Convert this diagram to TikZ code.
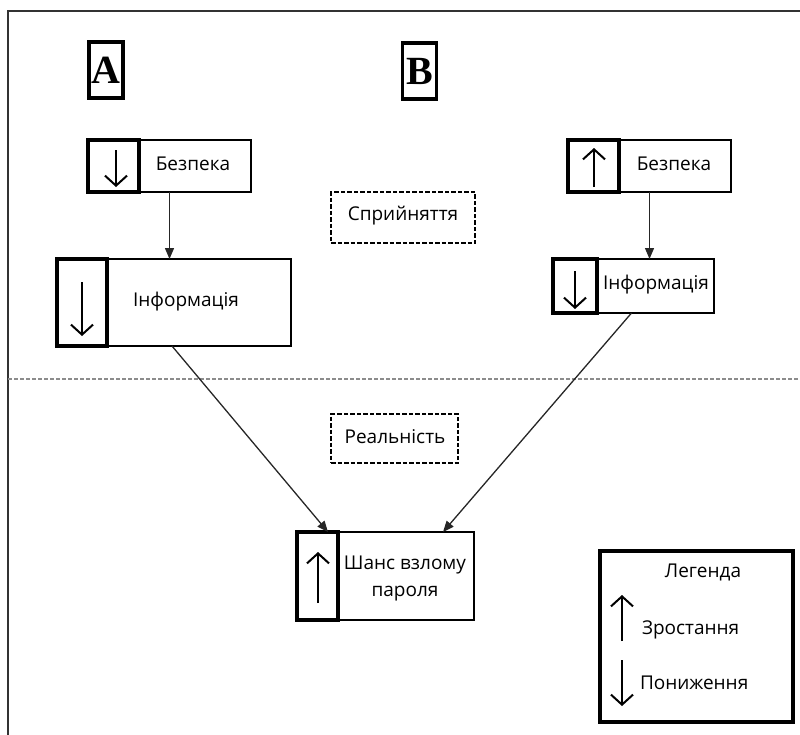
\documentclass[tikz,border=0pt]{standalone}
\usepackage{fontspec}
\setmainfont{Open Sans}
\newfontfamily\serifbold{Liberation Serif}
\usetikzlibrary{arrows.meta,calc}
\begin{document}
\begin{tikzpicture}[x=1pt,y=-1pt,
  every node/.style={inner sep=0pt,outer sep=0pt},
  txt/.style={font=\fontsize{19}{27}\selectfont,text height=13pt,text depth=4pt},
  box/.style={draw=black,line width=1.6pt,fill=white},
  subbox/.style={draw=black,line width=3.6pt},
  letterbox/.style={draw=black,line width=3.2pt,minimum width=34pt,minimum height=56pt,font=\serifbold\bfseries\fontsize{40}{40}\selectfont},
  dashbox/.style={draw=black,line width=1.2pt,dash pattern=on 4.5pt off 2pt},
  conn/.style={draw=black!85,line width=1.3pt,-{Triangle[length=11pt,width=9pt]}},
  icon/.style={line width=2pt,-{Straight Barb[length=10pt,width=22pt,line width=2pt]}},
  frame/.style={draw=black!80,line width=2.4pt}
]
\useasboundingbox (0,0) rectangle (800,734);
% frame
\draw[frame] (8,740) -- (8,11) -- (806,11);
% separator
\draw[black!45,line width=1.2pt,dash pattern=on 4pt off 2pt] (8,379) -- (800,379);

% letters
\node[letterbox] (A) at (106,70) {A};
\node[letterbox] (B) at (419.5,71) {B};

% left column
\node[box,minimum width=163pt,minimum height=52pt] (bezA) at (169.5,166) {};
\node[subbox,minimum width=51pt,minimum height=52pt] (bezAs) at (113.5,166) {};
\node[txt] (bezAt) at (193,166) {Безпека};
\draw[icon] (116,150) -- (116,187);

\node[box,minimum width=234pt,minimum height=87pt] (infA) at (174,302.5) {};
\node[subbox,minimum width=50pt,minimum height=87pt] (infAs) at (82,302.5) {};
\node[txt] (infAt) at (186,302) {Інформація};
\draw[icon] (82,282) -- (82,336);

% right column
\node[box,minimum width=163pt,minimum height=52pt] (bezB) at (649.5,166) {};
\node[subbox,minimum width=51pt,minimum height=52pt] (bezBs) at (593.5,166) {};
\node[txt] (bezBt) at (674,166) {Безпека};
\draw[icon] (594,187) -- (594,148);

\node[box,minimum width=161pt,minimum height=54pt] (infB) at (633.5,286) {};
\node[subbox,minimum width=44pt,minimum height=54pt] (infBs) at (575,286) {};
\node[txt] (infBt) at (656,285) {Інформація};
\draw[icon] (575,271) -- (575,309);

% labels
\node[dashbox,minimum width=144pt,minimum height=51pt] (perc) at (403,217.5) {};
\node[txt] (perct) at (403,216) {Сприйняття};
\node[dashbox,minimum width=127pt,minimum height=49pt] (real) at (394.5,438.5) {};
\node[txt] (realt) at (395,439) {Реальність};

% result
\node[box,minimum width=177pt,minimum height=88pt] (shans) at (385.5,576) {};
\node[subbox,minimum width=41pt,minimum height=88pt] (shansS) at (317.5,576) {};
\node[txt,align=center,text height=,text depth=] (shansT) at (405,578.5) {Шанс взлому\\пароля};
\draw[icon] (318,603) -- (318,552);

% connectors
\draw[conn] (bezA.south) -- (bezA.south |- infA.north);
\draw[conn] (bezB.south) -- (bezB.south |- infB.north);
\draw[conn] ($(infA.south)+(-2,0)$) -- ($(shans.north west)+(31,0)$);
\draw[conn] ($(infB.south)+(-2,0)$) -- ($(shans.north east)+(-31,0)$);

% legend
\node[draw=black,line width=4pt,minimum width=193pt,minimum height=171pt] (leg) at (696.5,636.5) {};
\node[txt] (legT) at (703,573) {Легенда};
\draw[icon] (622,641) -- (622,595);
\node[txt,anchor=west] (legUp) at (642,630) {Зростання};
\draw[icon] (622,660) -- (622,706);
\node[txt,anchor=west] (legDown) at (640,685) {Пониження};
\end{tikzpicture}
\end{document}
